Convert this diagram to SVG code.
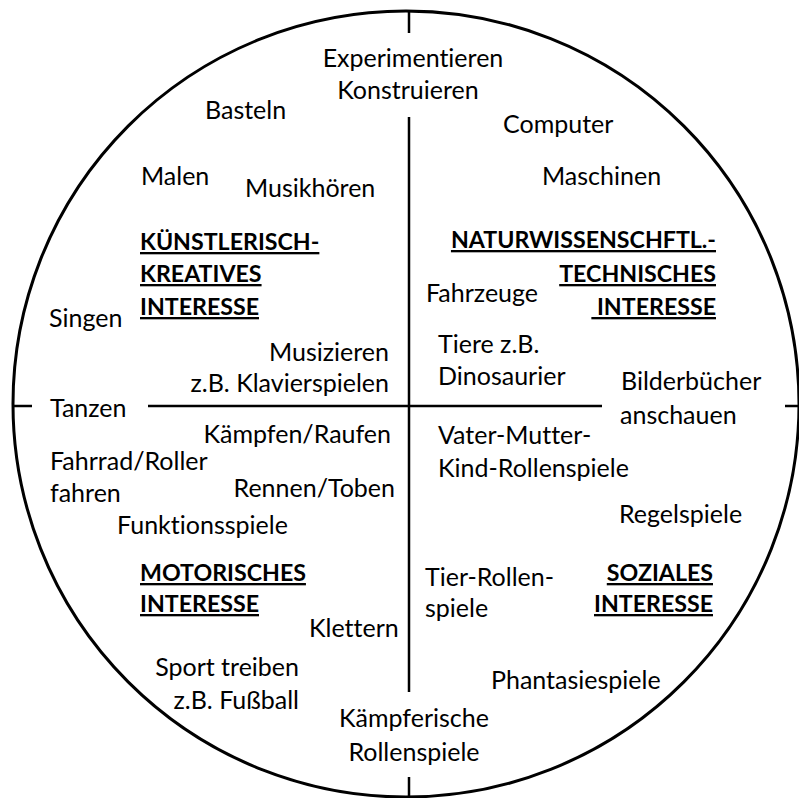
<svg xmlns="http://www.w3.org/2000/svg" width="799" height="798" viewBox="0 0 799 798">
<style>
text{font-family:Lato,"Liberation Sans",sans-serif;font-size:25px;fill:#000;font-variant-ligatures:none}
.h{font-weight:bold;font-size:23.2px;text-decoration:underline}
.r{text-anchor:end}
.c{text-anchor:middle}
.ln{stroke:#000;stroke-width:2.5;fill:none}
</style>
<rect width="799" height="798" fill="#fff"/>
<g id="frame">
<circle cx="406" cy="404" r="393" fill="none" stroke="#000" stroke-width="3"/>
</g>
<g id="axes">
<line class="ln" x1="409" y1="10" x2="409" y2="33"/>
<line class="ln" x1="409" y1="117" x2="409" y2="692"/>
<line class="ln" x1="409" y1="777" x2="409" y2="798"/>
<line class="ln" x1="13" y1="406" x2="32" y2="406"/>
<line class="ln" x1="148" y1="406" x2="602" y2="406"/>
<line class="ln" x1="785" y1="406" x2="799" y2="406"/>
</g>
<g id="experimentieren"><text class="c" x="413" y="67">Experimentieren</text><text class="c" x="408" y="99">Konstruieren</text></g>
<g id="basteln"><text x="205" y="119">Basteln</text></g>
<g id="malen"><text x="141" y="185">Malen</text></g>
<g id="musikhoeren"><text x="245" y="197">Musikhören</text></g>
<g id="kuenstlerisch"><text class="h" x="140" y="250">KÜNSTLERISCH-</text><text class="h" x="140" y="282">KREATIVES</text><text class="h" x="140" y="315">INTERESSE</text></g>
<g id="singen"><text x="49" y="327">Singen</text></g>
<g id="musizieren"><text class="r" x="389" y="361">Musizieren</text><text class="r" x="389" y="392">z.B. Klavierspielen</text></g>
<g id="computer"><text x="503" y="133">Computer</text></g>
<g id="maschinen"><text x="542" y="185">Maschinen</text></g>
<g id="naturwiss"><text class="h r" x="716" y="248">NATURWISSENSCHFTL.-</text><text class="h r" x="716" y="282">TECHNISCHES</text><text class="h r" x="716" y="315" style="white-space:pre"> INTERESSE</text></g>
<g id="fahrzeuge"><text x="426" y="302">Fahrzeuge</text></g>
<g id="tiere"><text x="438" y="353">Tiere z.B.</text><text x="438" y="385">Dinosaurier</text></g>
<g id="bilderbuecher"><text x="621" y="390">Bilderbücher</text><text x="620" y="424">anschauen</text></g>
<g id="tanzen"><text x="50" y="417">Tanzen</text></g>
<g id="kaempfen"><text class="r" x="391" y="443">Kämpfen/Raufen</text></g>
<g id="fahrrad"><text x="50" y="470">Fahrrad/Roller</text><text x="50" y="502">fahren</text></g>
<g id="rennen"><text class="r" x="395" y="497">Rennen/Toben</text></g>
<g id="funktionsspiele"><text x="117" y="534">Funktionsspiele</text></g>
<g id="motorisch"><text class="h" x="140" y="581">MOTORISCHES</text><text class="h" x="140" y="612">INTERESSE</text></g>
<g id="klettern"><text x="309" y="637">Klettern</text></g>
<g id="sport"><text class="r" x="299" y="676">Sport treiben</text><text class="r" x="299" y="709">z.B. Fußball</text></g>
<g id="kaempferische"><text class="c" x="414" y="727">Kämpferische</text><text class="c" x="414" y="761">Rollenspiele</text></g>
<g id="vatermutter"><text x="438" y="444">Vater-Mutter-</text><text x="438" y="477">Kind-Rollenspiele</text></g>
<g id="regelspiele"><text x="619" y="523">Regelspiele</text></g>
<g id="sozial"><text class="h r" x="713" y="581">SOZIALES</text><text class="h r" x="713" y="612">INTERESSE</text></g>
<g id="tierrollen"><text x="425" y="586">Tier-Rollen-</text><text x="425" y="617">spiele</text></g>
<g id="phantasie"><text x="491" y="689">Phantasiespiele</text></g>
</svg>
